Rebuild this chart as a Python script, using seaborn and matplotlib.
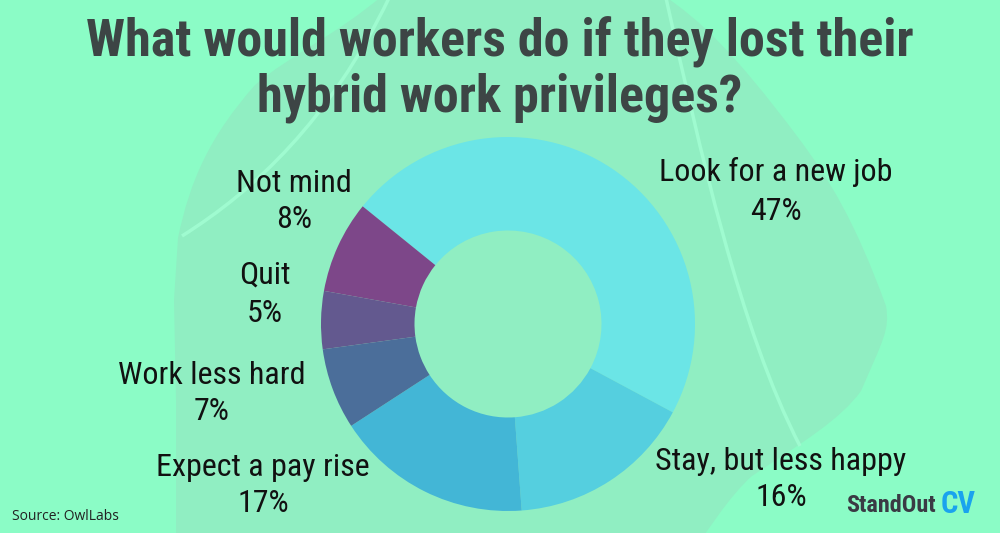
import matplotlib
matplotlib.use("Agg")
import matplotlib.pyplot as plt
import seaborn as sns
from matplotlib.path import Path
from matplotlib.patches import PathPatch

# Data
categories = ["Look for a new job", "Stay, but less happy", "Expect a pay rise",
              "Work less hard", "Quit", "Not mind"]
shares = [47, 16, 17, 7, 5, 8]
colors = ["#6be5e6", "#55cfdf", "#43b6d6", "#4b6e9a", "#63598f", "#7d4789"]

# label centres in pixel coords (x, name y, percent y), y from top
label_pos = [(776, 172, 211), (781, 462, 497), (263, 468, 504),
             (212, 376, 411), (265, 275, 314), (294, 184, 219)]

title_lines = ["What would workers do if they lost their", "hybrid work privileges?"]

sns.set_theme(style="white")
plt.rcParams["font.family"] = ["Roboto Condensed", "Roboto", "DejaVu Sans"]

BG = "#8bfcc6"
BLOB = "#90eec2"

fig = plt.figure(figsize=(10, 5.33), dpi=100)
fig.patch.set_facecolor(BG)

# background layer in pixel coords
bg = fig.add_axes([0, 0, 1, 1])
bg.set_xlim(0, 1000)
bg.set_ylim(533, 0)
bg.axis("off")

blob_pts = [(176, 540), (176, 400), (174, 300), (178, 238),
            (190, 180), (210, 136), (255, 85),
            (290, 55), (338, 34), (383, -5),
            (500, -5), (600, -5), (663, -5),
            (700, 20), (733, 51), (797, 136),
            (830, 180), (855, 221), (886, 306),
            (890, 330), (883, 340), (861, 391),
            (840, 420), (803, 442), (752, 476),
            (730, 495), (701, 540), (701, 540)]
codes = [Path.MOVETO] + [Path.LINETO] * 3 + [Path.CURVE4] * 24
bg.add_patch(PathPatch(Path(blob_pts, codes), facecolor=BLOB, edgecolor="none", zorder=0))

line_a = Path([(182, 236), (255, 190), (330, 120), (389, -2)],
              [Path.MOVETO, Path.CURVE4, Path.CURVE4, Path.CURVE4])
line_b = Path([(666, -2), (700, 150), (740, 330), (800, 446)],
              [Path.MOVETO, Path.CURVE4, Path.CURVE4, Path.CURVE4])
for p in (line_a, line_b):
    bg.add_patch(PathPatch(p, facecolor="none", edgecolor="#9ffbd0", lw=2.5, zorder=1))

# donut chart
cx, cy, R = 508, 324, 187
ax = fig.add_axes([(cx - R) / 1000, (533 - cy - R) / 533, 2 * R / 1000, 2 * R / 533])
ax.pie(shares, colors=colors, startangle=141, counterclock=False, radius=1,
       wedgeprops=dict(width=0.5, linewidth=0))
ax.set_xlim(-1, 1)
ax.set_ylim(-1, 1)
ax.set_aspect("equal")
ax.axis("off")

for cat, val, (x, y1, y2) in zip(categories, shares, label_pos):
    bg.text(x, y1, cat, ha="center", va="center", fontsize=23, color="#111111", zorder=5)
    bg.text(x, y2, f"{val}%", ha="center", va="center", fontsize=23, color="#111111", zorder=5)

# title
for line, y in zip(title_lines, [42, 98]):
    bg.text(500, y, line, ha="center", va="center", fontsize=37.5, fontweight="bold",
            color="#3d4545", zorder=5)

bg.text(12, 516, "Source: OwlLabs", ha="left", va="center", fontsize=10,
        color="#222222", family=["Open Sans", "DejaVu Sans"], zorder=5)
bg.text(936, 505, "StandOut", ha="right", va="center", fontsize=17.5,
        fontweight="bold", color="#3a3a44", zorder=5)
bg.text(941, 504, "CV", ha="left", va="center", fontsize=22,
        fontweight="bold", color="#1aa3ee", zorder=5)

fig.savefig("out.png", dpi=100, facecolor=BG)
